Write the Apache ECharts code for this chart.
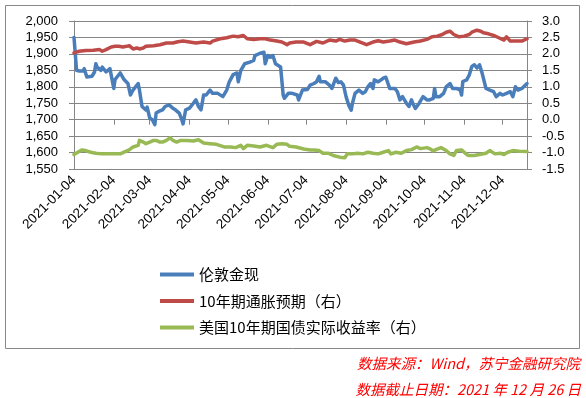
<!DOCTYPE html>
<html>
<head>
<meta charset="utf-8">
<script src="https://cdn.jsdelivr.net/npm/echarts@6/dist/echarts.min.js"></script>
<style>
html, body { margin: 0; padding: 0; background: #fff; }
#chart { width: 586px; height: 398px; }
</style>
</head>
<body>
<div id="chart"></div>
<script>
// 伦敦金现 (左轴)
const gold = [
  ['2021-01-04', 1950], ['2021-01-06', 1850], ['2021-01-08', 1848], ['2021-01-11', 1848], ['2021-01-12', 1855],
  ['2021-01-14', 1830], ['2021-01-18', 1832], ['2021-01-20', 1845], ['2021-01-21', 1870], ['2021-01-22', 1860],
  ['2021-01-25', 1850], ['2021-01-26', 1860], ['2021-01-29', 1845], ['2021-02-01', 1855], ['2021-02-02', 1860],
  ['2021-02-04', 1795], ['2021-02-05', 1822], ['2021-02-09', 1842], ['2021-02-12', 1822], ['2021-02-15', 1810],
  ['2021-02-17', 1775], ['2021-02-19', 1790], ['2021-02-23', 1810], ['2021-02-24', 1790], ['2021-02-26', 1740],
  ['2021-03-01', 1730], ['2021-03-02', 1738], ['2021-03-04', 1705], ['2021-03-06', 1700], ['2021-03-08', 1685],
  ['2021-03-09', 1720], ['2021-03-11', 1725], ['2021-03-14', 1730], ['2021-03-16', 1740], ['2021-03-19', 1745],
  ['2021-03-22', 1735], ['2021-03-24', 1730], ['2021-03-27', 1720], ['2021-03-29', 1700], ['2021-03-30', 1687],
  ['2021-04-01', 1730], ['2021-04-04', 1735], ['2021-04-07', 1750], ['2021-04-09', 1760], ['2021-04-11', 1740],
  ['2021-04-13', 1730], ['2021-04-15', 1775], ['2021-04-17', 1775], ['2021-04-20', 1790], ['2021-04-22', 1780],
  ['2021-04-26', 1780], ['2021-04-30', 1770], ['2021-05-03', 1790], ['2021-05-05', 1815], ['2021-05-08', 1837],
  ['2021-05-11', 1842], ['2021-05-12', 1815], ['2021-05-14', 1850], ['2021-05-17', 1870], ['2021-05-21', 1875],
  ['2021-05-24', 1880], ['2021-05-25', 1895], ['2021-05-29', 1902], ['2021-06-01', 1905], ['2021-06-02', 1870],
  ['2021-06-04', 1895], ['2021-06-06', 1890], ['2021-06-08', 1895], ['2021-06-10', 1870], ['2021-06-14', 1860],
  ['2021-06-16', 1775], ['2021-06-17', 1765], ['2021-06-20', 1780], ['2021-06-23', 1780], ['2021-06-27', 1775],
  ['2021-06-28', 1760], ['2021-07-01', 1790], ['2021-07-05', 1792], ['2021-07-07', 1805], ['2021-07-10', 1810],
  ['2021-07-12', 1815], ['2021-07-14', 1832], ['2021-07-15', 1815], ['2021-07-19', 1815], ['2021-07-22', 1805],
  ['2021-07-24', 1795], ['2021-07-27', 1826], ['2021-07-29', 1813], ['2021-07-31', 1815], ['2021-08-02', 1805],
  ['2021-08-04', 1770], ['2021-08-06', 1745], ['2021-08-08', 1729], ['2021-08-09', 1750], ['2021-08-11', 1780],
  ['2021-08-14', 1790], ['2021-08-17', 1780], ['2021-08-19', 1785], ['2021-08-21', 1800], ['2021-08-23', 1810],
  ['2021-08-25', 1795], ['2021-08-26', 1821], ['2021-08-29', 1815], ['2021-08-30', 1821], ['2021-09-02', 1826],
  ['2021-09-04', 1829], ['2021-09-07', 1795], ['2021-09-08', 1790], ['2021-09-11', 1795], ['2021-09-13', 1785],
  ['2021-09-15', 1760], ['2021-09-17', 1770], ['2021-09-18', 1775], ['2021-09-20', 1750], ['2021-09-22', 1740],
  ['2021-09-24', 1760], ['2021-09-25', 1750], ['2021-09-27', 1734], ['2021-09-28', 1729], ['2021-09-30', 1750],
  ['2021-10-03', 1770], ['2021-10-06', 1760], ['2021-10-08', 1760], ['2021-10-11', 1765], ['2021-10-12', 1795],
  ['2021-10-13', 1770], ['2021-10-16', 1770], ['2021-10-19', 1780], ['2021-10-21', 1800], ['2021-10-24', 1810],
  ['2021-10-26', 1795], ['2021-10-29', 1795], ['2021-11-01', 1790], ['2021-11-02', 1775], ['2021-11-03', 1816],
  ['2021-11-06', 1821], ['2021-11-08', 1836], ['2021-11-10', 1862], ['2021-11-12', 1867], ['2021-11-14', 1857],
  ['2021-11-16', 1867], ['2021-11-18', 1842], ['2021-11-21', 1795], ['2021-11-24', 1790], ['2021-11-27', 1785],
  ['2021-11-29', 1770], ['2021-12-02', 1780], ['2021-12-04', 1775], ['2021-12-07', 1780], ['2021-12-08', 1775],
  ['2021-12-10', 1785], ['2021-12-12', 1770], ['2021-12-14', 1800], ['2021-12-16', 1790], ['2021-12-19', 1795],
  ['2021-12-23', 1810]
]

// 10年期通胀预期 (右轴)
const breakeven = [
  ['2021-01-04', 2.03], ['2021-01-08', 2.08], ['2021-01-13', 2.10], ['2021-01-19', 2.11], ['2021-01-24', 2.13],
  ['2021-01-26', 2.08], ['2021-01-29', 2.13], ['2021-02-02', 2.21], ['2021-02-05', 2.23], ['2021-02-08', 2.23],
  ['2021-02-11', 2.21], ['2021-02-14', 2.23], ['2021-02-16', 2.25], ['2021-02-19', 2.15], ['2021-02-22', 2.18],
  ['2021-02-24', 2.15], ['2021-02-27', 2.18], ['2021-03-01', 2.23], ['2021-03-07', 2.25], ['2021-03-12', 2.28],
  ['2021-03-17', 2.33], ['2021-03-22', 2.33], ['2021-03-26', 2.37], ['2021-03-30', 2.39], ['2021-04-04', 2.36],
  ['2021-04-09', 2.33], ['2021-04-15', 2.36], ['2021-04-20', 2.33], ['2021-04-22', 2.39], ['2021-04-28', 2.46],
  ['2021-05-03', 2.49], ['2021-05-08', 2.54], ['2021-05-12', 2.52], ['2021-05-16', 2.56], ['2021-05-19', 2.46],
  ['2021-05-24', 2.44], ['2021-05-29', 2.46], ['2021-06-02', 2.46], ['2021-06-06', 2.42], ['2021-06-11', 2.39],
  ['2021-06-15', 2.36], ['2021-06-19', 2.28], ['2021-06-21', 2.33], ['2021-06-26', 2.36], ['2021-07-02', 2.36],
  ['2021-07-07', 2.28], ['2021-07-12', 2.38], ['2021-07-17', 2.33], ['2021-07-22', 2.42], ['2021-07-27', 2.39],
  ['2021-07-30', 2.44], ['2021-08-03', 2.39], ['2021-08-07', 2.42], ['2021-08-11', 2.42], ['2021-08-15', 2.36],
  ['2021-08-20', 2.28], ['2021-08-25', 2.36], ['2021-08-29', 2.40], ['2021-09-02', 2.36], ['2021-09-07', 2.39],
  ['2021-09-11', 2.42], ['2021-09-15', 2.36], ['2021-09-20', 2.31], ['2021-09-26', 2.36], ['2021-10-01', 2.39],
  ['2021-10-06', 2.44], ['2021-10-10', 2.52], ['2021-10-14', 2.54], ['2021-10-18', 2.59], ['2021-10-21', 2.66],
  ['2021-10-24', 2.69], ['2021-10-27', 2.59], ['2021-10-31', 2.52], ['2021-11-04', 2.54], ['2021-11-08', 2.59],
  ['2021-11-10', 2.66], ['2021-11-14', 2.72], ['2021-11-17', 2.69], ['2021-11-19', 2.64], ['2021-11-23', 2.61],
  ['2021-11-27', 2.56], ['2021-12-01', 2.49], ['2021-12-05', 2.42], ['2021-12-07', 2.52], ['2021-12-10', 2.39],
  ['2021-12-15', 2.39], ['2021-12-19', 2.39], ['2021-12-23', 2.46]
]

// 美国10年期国债实际收益率 (右轴)
const realYield = [
  ['2021-01-04', -1.06], ['2021-01-07', -0.99], ['2021-01-10', -0.92], ['2021-01-13', -0.94], ['2021-01-17', -0.99],
  ['2021-01-21', -1.02], ['2021-01-26', -1.04], ['2021-02-01', -1.04], ['2021-02-05', -1.04], ['2021-02-09', -1.04],
  ['2021-02-12', -0.99], ['2021-02-16', -0.92], ['2021-02-19', -0.83], ['2021-02-23', -0.78], ['2021-02-24', -0.63],
  ['2021-02-27', -0.68], ['2021-03-01', -0.73], ['2021-03-04', -0.68], ['2021-03-07', -0.63], ['2021-03-09', -0.63],
  ['2021-03-12', -0.68], ['2021-03-14', -0.68], ['2021-03-17', -0.63], ['2021-03-20', -0.55], ['2021-03-22', -0.63],
  ['2021-03-25', -0.68], ['2021-03-28', -0.63], ['2021-04-02', -0.63], ['2021-04-07', -0.65], ['2021-04-11', -0.61],
  ['2021-04-15', -0.71], ['2021-04-20', -0.73], ['2021-04-25', -0.75], ['2021-05-01', -0.83], ['2021-05-06', -0.83],
  ['2021-05-10', -0.85], ['2021-05-14', -0.78], ['2021-05-16', -0.88], ['2021-05-19', -0.78], ['2021-05-24', -0.80],
  ['2021-05-29', -0.83], ['2021-06-03', -0.78], ['2021-06-08', -0.85], ['2021-06-11', -0.75], ['2021-06-15', -0.73],
  ['2021-06-19', -0.75], ['2021-06-21', -0.81], ['2021-06-26', -0.83], ['2021-07-02', -0.89], ['2021-07-07', -0.92],
  ['2021-07-10', -0.92], ['2021-07-14', -0.94], ['2021-07-17', -1.02], ['2021-07-21', -1.02], ['2021-07-25', -1.09],
  ['2021-07-30', -1.14], ['2021-08-03', -1.16], ['2021-08-05', -1.04], ['2021-08-09', -1.04], ['2021-08-13', -1.02],
  ['2021-08-17', -1.04], ['2021-08-21', -0.99], ['2021-08-25', -1.02], ['2021-08-29', -1.04], ['2021-09-02', -0.99],
  ['2021-09-06', -0.94], ['2021-09-08', -1.04], ['2021-09-12', -0.99], ['2021-09-16', -1.02], ['2021-09-20', -0.94],
  ['2021-09-24', -0.91], ['2021-09-28', -0.83], ['2021-10-01', -0.88], ['2021-10-06', -0.85], ['2021-10-08', -0.88],
  ['2021-10-11', -0.95], ['2021-10-13', -0.91], ['2021-10-17', -0.85], ['2021-10-21', -0.94], ['2021-10-24', -1.04],
  ['2021-10-27', -1.09], ['2021-10-29', -0.94], ['2021-11-02', -0.92], ['2021-11-06', -1.06], ['2021-11-08', -1.09],
  ['2021-11-12', -1.09], ['2021-11-16', -1.06], ['2021-11-21', -1.02], ['2021-11-24', -0.94], ['2021-11-28', -1.04],
  ['2021-12-02', -1.02], ['2021-12-05', -1.06], ['2021-12-08', -0.99], ['2021-12-12', -0.94], ['2021-12-17', -0.96],
  ['2021-12-23', -0.97]
]

// x轴刻度标签
const tickDates = [
  '2021-01-04', '2021-02-04', '2021-03-04', '2021-04-04', '2021-05-04', '2021-06-04',
  '2021-07-04', '2021-08-04', '2021-09-04', '2021-10-04', '2021-11-04', '2021-12-04'
]
const seriesNames = ['伦敦金现', '10年期通胀预期（右）', '美国10年期国债实际收益率（右）']
const colors = ['#4A7EBB', '#BE4B48', '#98B954']

// 日期字符串 -> 时间戳 (本地时间)
function ts(s) {
  const p = s.split('-').map(Number)
  return new Date(p[0], p[1] - 1, p[2]).getTime()
}
function toPoints(arr) {
  return arr.map(d => [ts(d[0]), d[1]])
}
function pad(n) {
  return n < 10 ? '0' + n : '' + n
}

const numFont = 'Liberation Sans'
const axisGray = '#868686'

const myChart = echarts.init(document.getElementById('chart'))
const options = {
  animation: false,
  color: colors,
  grid: { left: 74, right: 59, top: 21, bottom: 229, containLabel: false },
  legend: {
    orient: 'vertical',
    left: 155,
    top: 261,
    icon: 'rect',
    itemWidth: 34,
    itemHeight: 4,
    itemGap: 9.5,
    textStyle: { fontSize: 15, color: '#000', fontFamily: 'Noto Sans CJK SC', lineHeight: 17 },
    data: seriesNames
  },
  // 时间戳作为数值轴，刻度固定在每月4日
  xAxis: {
    type: 'value',
    min: ts('2021-01-04'),
    max: ts('2021-12-23'),
    axisLine: { lineStyle: { color: axisGray } },
    axisTick: { show: true, length: 5, lineStyle: { color: axisGray }, customValues: tickDates.map(ts) },
    splitLine: { show: false },
    axisLabel: {
      customValues: tickDates.map(ts),
      rotate: 45,
      margin: 9,
      color: '#000',
      fontSize: 13.5,
      fontFamily: numFont,
      formatter: v => {
        const d = new Date(v)
        return d.getFullYear() + '-' + pad(d.getMonth() + 1) + '-' + pad(d.getDate())
      }
    }
  },
  yAxis: [
    {
      type: 'value',
      min: 1550,
      max: 2000,
      interval: 50,
      axisLine: { show: true, lineStyle: { color: axisGray } },
      axisTick: { show: true, length: 5, lineStyle: { color: axisGray } },
      splitLine: { show: true, lineStyle: { color: axisGray, width: 1 } },
      axisLabel: {
        margin: 16,
        color: '#000',
        fontSize: 13,
        fontFamily: numFont,
        formatter: v => v.toLocaleString('en-US')
      }
    },
    {
      type: 'value',
      min: -1.5,
      max: 3,
      interval: 0.5,
      axisLine: { show: true, lineStyle: { color: axisGray } },
      axisTick: { show: true, length: 5, lineStyle: { color: axisGray } },
      splitLine: { show: false },
      axisLabel: {
        margin: 15,
        color: '#000',
        fontSize: 13,
        fontFamily: numFont,
        formatter: v => v.toFixed(1)
      }
    }
  ],
  series: [
    {
      name: seriesNames[0], type: 'line', yAxisIndex: 0, symbol: 'none',
      lineStyle: { width: 3.5, cap: 'round', join: 'round' },
      data: toPoints(gold)
    },
    {
      name: seriesNames[1], type: 'line', yAxisIndex: 1, symbol: 'none',
      lineStyle: { width: 3.5, cap: 'round', join: 'round' },
      data: toPoints(breakeven)
    },
    {
      name: seriesNames[2], type: 'line', yAxisIndex: 1, symbol: 'none',
      lineStyle: { width: 3.5, cap: 'round', join: 'round' },
      data: toPoints(realYield)
    }
  ],
  graphic: [
    {
      type: 'rect',
      shape: { x: 5.5, y: 5.5, width: 574, height: 343 },
      style: { fill: 'none', stroke: '#888', lineWidth: 1 },
      silent: true
    },
    {
      type: 'text',
      style: {
        x: 580, y: 363, text: '数据来源：Wind，苏宁金融研究院',
        fill: '#FF0000', font: 'italic 14.5px "Noto Sans CJK SC"',
        textAlign: 'right', textVerticalAlign: 'middle'
      }
    },
    {
      type: 'text',
      style: {
        x: 581, y: 389, text: '数据截止日期：2021 年 12 月 26 日',
        fill: '#FF0000', font: 'italic 14.5px "Noto Sans CJK SC"',
        textAlign: 'right', textVerticalAlign: 'middle'
      }
    }
  ]
}
myChart.setOption(options)
window.addEventListener('resize', () => {
  myChart.resize()
})
</script>
</body>
</html>
